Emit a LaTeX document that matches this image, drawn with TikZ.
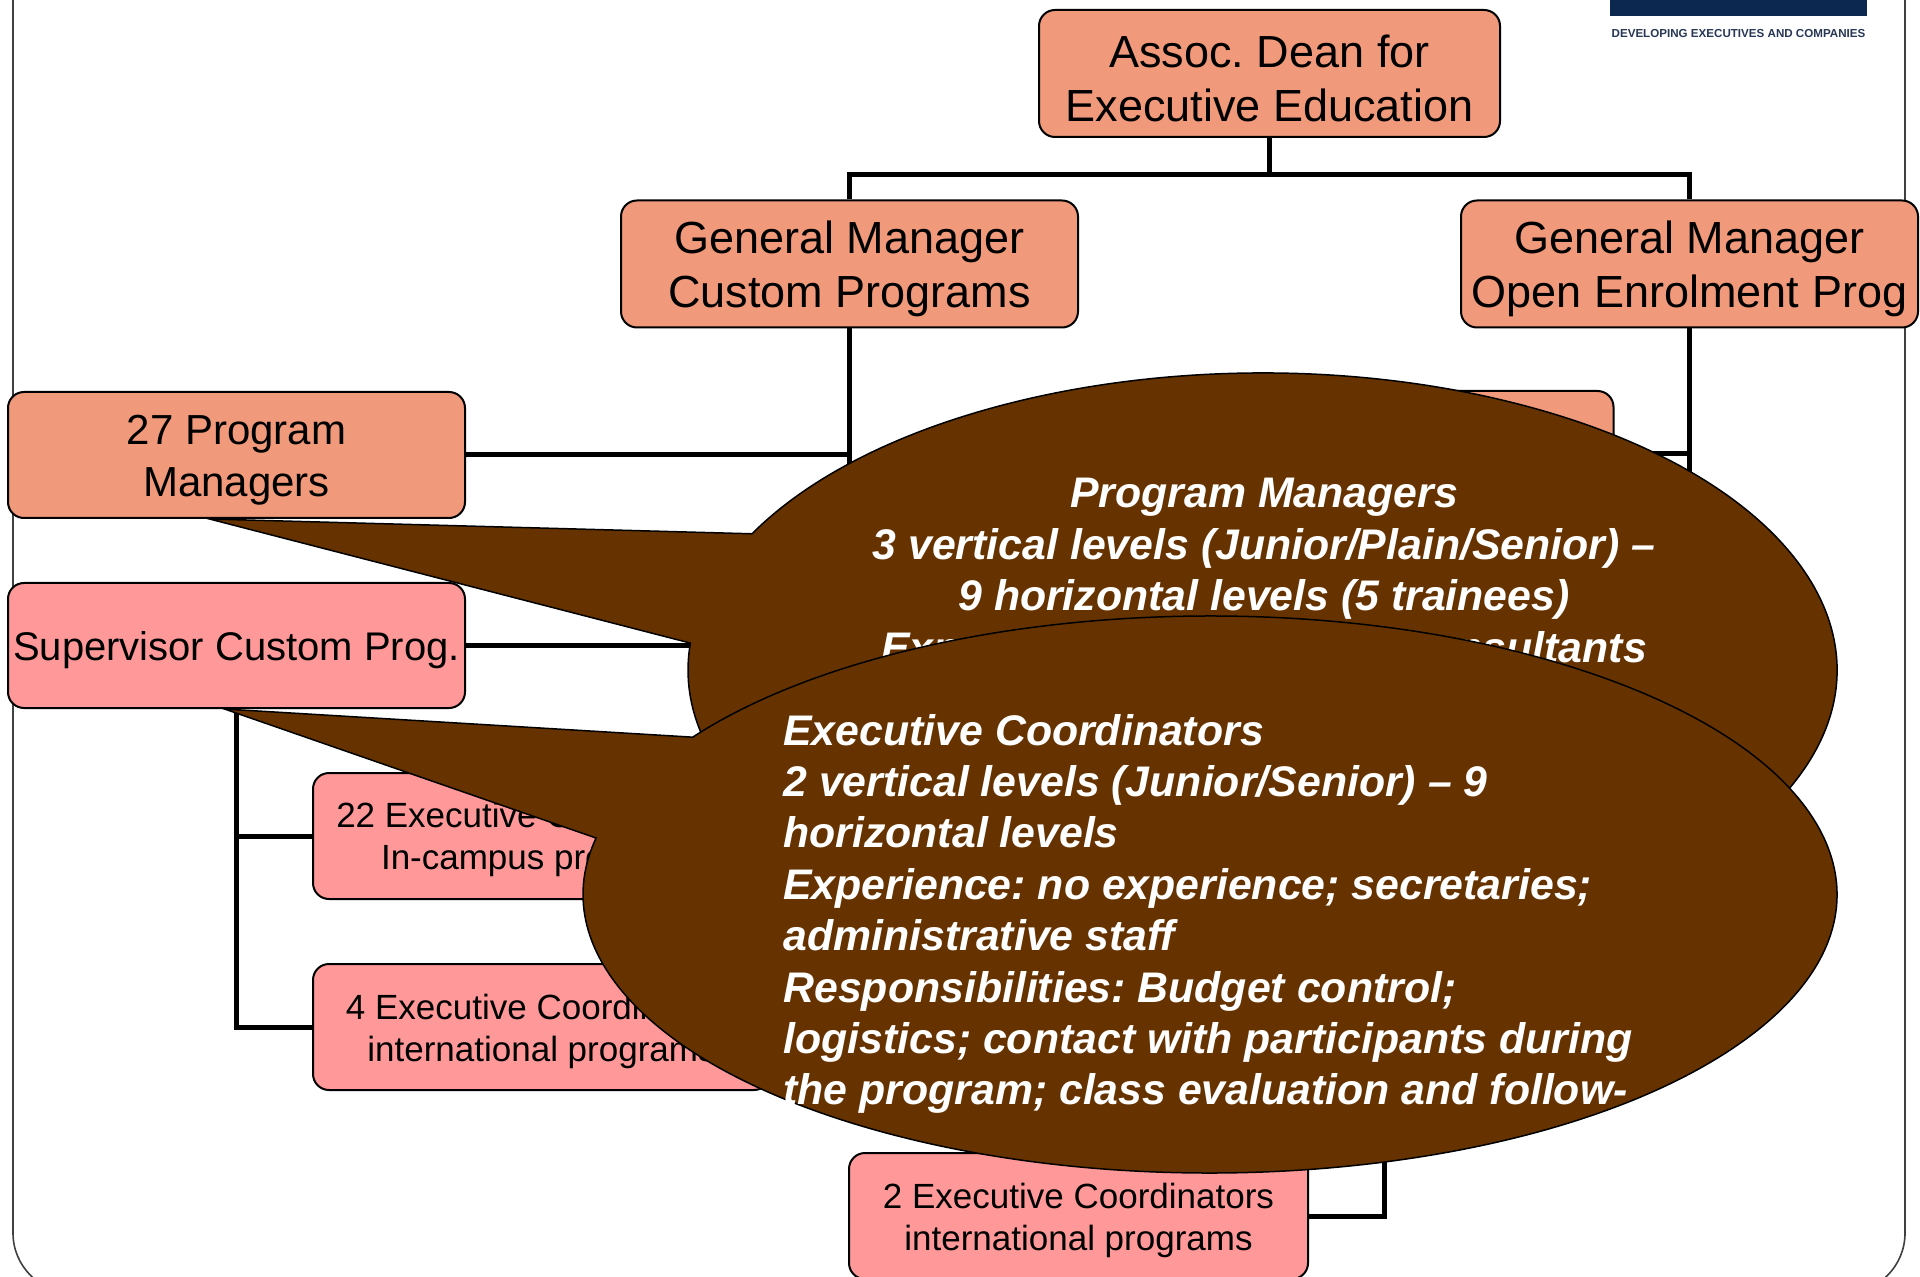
\documentclass[tikz,border=0pt]{standalone}
\usepackage{fontspec}
\setmainfont{Liberation Sans}
\usetikzlibrary{calc}
\frenchspacing

\definecolor{salmonC}{RGB}{240,153,123}
\definecolor{pinkC}{RGB}{255,153,153}
\definecolor{brownC}{RGB}{102,51,0}
\definecolor{navyC}{RGB}{13,40,80}
\definecolor{logoText}{RGB}{40,55,85}

\pgfdeclarelayer{back}
\pgfsetlayers{back,main}

% taller first line, so the box text sits a little lower
\newcommand{\topstrut}{\rule{0pt}{0.95em}}

\begin{document}
\begin{tikzpicture}[x=0.5pt,y=-0.5pt,
  box/.style={draw=black, line width=1pt, rounded corners=8pt, align=center,
              inner sep=0pt, minimum width=228.5pt, minimum height=63pt, text=black},
  salmonbox/.style={box, fill=salmonC, font=\fontsize{22.5pt}{27pt}\selectfont},
  pinkbox/.style={box, fill=pinkC, font=\fontsize{17.5pt}{21pt}\selectfont},
  link/.style={line width=2.5pt, line join=miter},
  callout/.style={fill=brownC, draw=black, line width=0.75pt, line join=miter},
  calltext/.style={text=white, inner sep=0pt,
                   font=\fontsize{21.4pt}{25.7pt}\selectfont\bfseries\itshape}
]
\useasboundingbox (0,0) rectangle (1920,1277);
\clip (0,0) rectangle (1920,1277);

% slide frame
\draw[black!75, line width=0.8pt, rounded corners=30pt]
  (13,-30) -- (13,1293) -- (1905,1293) -- (1905,-30);

% school logo strip
\fill[navyC] (1610,-5) rectangle (1867,16);
\node[anchor=base, inner sep=0pt, text=logoText,
      font=\fontsize{5.8pt}{7pt}\selectfont\bfseries] (tagline) at (1738.5,37.7)
  {DEVELOPING EXECUTIVES AND COMPANIES};

% boxes
\node[salmonbox, minimum width=230.5pt, minimum height=63.5pt] (dean) at (1269.5,73.5)
  {\topstrut Assoc. Dean for\\Executive Education};
\node[salmonbox, minimum height=63.5pt] (gmc) at (849.5,264)
  {\topstrut General Manager\\Custom Programs};
\node[salmonbox, minimum height=63.5pt] (gmo) at (1689.5,264)
  {\topstrut General Manager\\Open Enrolment Prog};
\node[salmonbox, font=\fontsize{21pt}{26pt}\selectfont] (pm) at (236.5,455)
  {\topstrut 27 Program\\Managers};
\node[salmonbox] (pmo) at (1385,454) {};
\node[pinkbox, font=\fontsize{20pt}{24pt}\selectfont, minimum height=62.5pt] (sup) at (236.5,645.5)
  {\topstrut Supervisor Custom Prog.};
\node[pinkbox] (ec22) at (541.5,836)
  {\topstrut 22 Executive Coordinators\\In-campus programs};
\node[pinkbox] (ec4) at (541.5,1027)
  {\topstrut 4 Executive Coordinators\\international programs};
\node[pinkbox, minimum width=229.5pt] (ec2) at (1078.5,1216)
  {\topstrut 2 Executive Coordinators\\international programs};

% connectors, kept behind the boxes
\coordinate (bar) at (0,175);
\coordinate (sup2) at (1384,1080);
\begin{pgfonlayer}{back}
\draw[link] (dean.south) -- (dean.south |- bar);
\draw[link] (gmc.north) -- (gmc.north |- bar) -- (gmo.north |- bar) -- (gmo.north);
\draw[link] (gmc.south) -- (gmc.south |- sup.east);
\draw[link] (pm.east) -- (pm.east -| gmc.south);
\draw[link] (sup.east) -- (sup.east -| gmc.south);
\draw[link] (gmo.south) -- (gmo.south |- sup.east);
\draw[link] (pmo.east) -- (pmo.east -| gmo.south);
\draw[link] (sup.south) -- (sup.south |- ec4.west) -- (ec4.west);
\draw[link] (sup.south |- ec22.west) -- (ec22.west);
\draw[link] (ec2.east) -| (sup2);
\end{pgfonlayer}

% callout on the program managers
\coordinate (c1) at (1262.5,670);
\path[callout] ($(pm.south)+(-27,0)$) -- ($(c1)+(152.7:287.25pt and 148.5pt)$)
  arc[start angle=152.7, end angle=-185.2, x radius=287.25pt, y radius=148.5pt] -- cycle;
\node[calltext, anchor=base, align=center] (t1) at (1264,662.2)
  {Program Managers\\3 vertical levels (Junior/Plain/Senior) –\\9 horizontal levels (5 trainees)\\Experience: MBA; former consultants};

% callout on the executive coordinators
\coordinate (c2) at (1210,894.5);
\path[callout] ($(sup.south)+(-12,0)$) -- ($(c2)+(145.6:313.5pt and 139.25pt)$)
  arc[start angle=145.6, end angle=-191.7, x radius=313.5pt, y radius=139.25pt] -- cycle;
\node[calltext, anchor=base west, align=left] (t2) at (783,1104.8)
  {Executive Coordinators\\2 vertical levels (Junior/Senior) – 9\\horizontal levels\\Experience: no experience; secretaries;\\administrative staff\\Responsibilities: Budget control;\\logistics; contact with participants during\\the program; class evaluation and follow-};
\end{tikzpicture}
\end{document}
